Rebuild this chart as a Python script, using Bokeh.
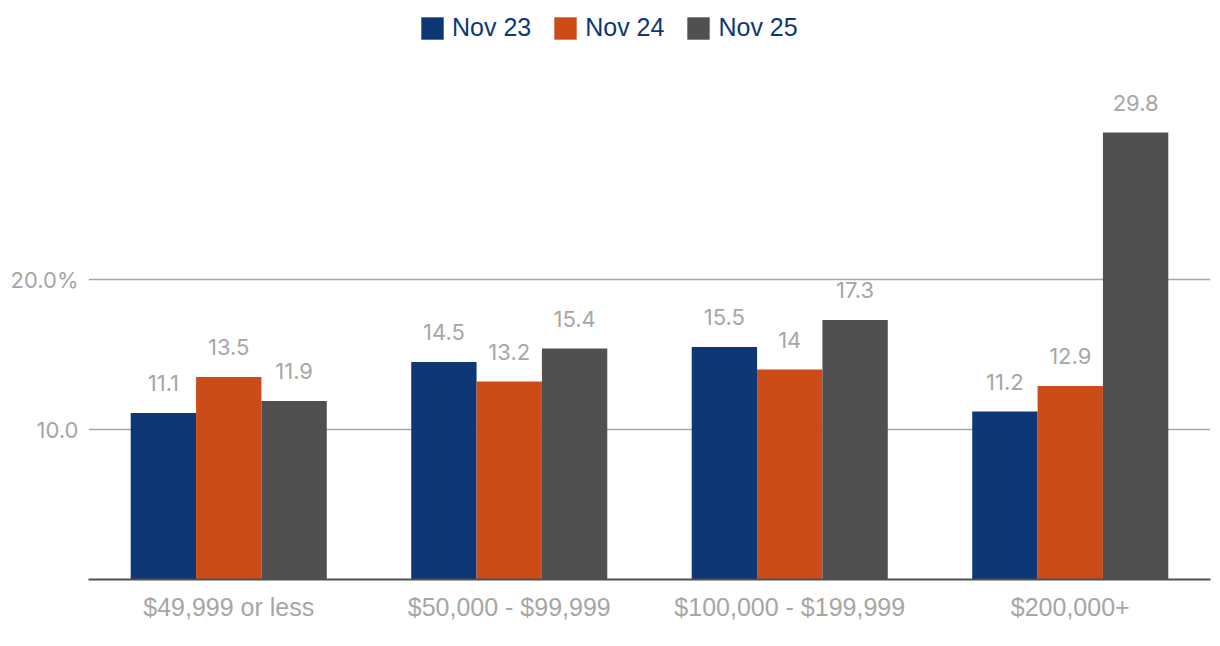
from bokeh.plotting import figure
from bokeh.models import ColumnDataSource, FixedTicker, Legend, LegendItem
from bokeh.transform import dodge
from bokeh.core.properties import value
from bokeh.embed import file_html
from bokeh.resources import INLINE

categories = ["$49,999 or less", "$50,000 - $99,999", "$100,000 - $199,999", "$200,000+"]
series_names = ["Nov 23", "Nov 24", "Nov 25"]
nov23 = [11.1, 14.5, 15.5, 11.2]
nov24 = [13.5, 13.2, 14.0, 12.9]
nov25 = [11.9, 15.4, 17.3, 29.8]
y_ticks = [10, 20]
y_tick_labels = {10: "10.0", 20: "20.0%"}

colors = ["#0D3775", "#CC4C19", "#505050"]
text_gray = "#A6A6A6"
FONT = "Inter"

p = figure(x_range=categories, y_range=(0, 38.6), width=1212, height=638,
           output_backend="svg", toolbar_location=None,
           min_border_left=88, min_border_right=2, min_border_top=0, min_border_bottom=59)
p.outline_line_color = None
p.background_fill_color = "white"

src = ColumnDataSource(dict(cat=categories, v0=nov23, v1=nov24, v2=nov25,
                            l0=[f"{v:g}" for v in nov23],
                            l1=[f"{v:g}" for v in nov24],
                            l2=[f"{v:g}" for v in nov25]))

bw = 0.233
offsets = [-bw, 0.0, bw]
renderers = []
for i, off in enumerate(offsets):
    r = p.vbar(x=dodge("cat", off, range=p.x_range), top=f"v{i}", width=bw,
               source=src, fill_color=colors[i], line_color=None)
    renderers.append(r)
    p.text(x=dodge("cat", off, range=p.x_range), y=f"v{i}", text=f"l{i}", source=src,
           text_align="center", text_baseline="middle", y_offset=-30,
           text_font=value(FONT), text_font_size="22px", text_color=text_gray)

# axes
p.yaxis.ticker = FixedTicker(ticks=y_ticks)
p.yaxis.major_label_overrides = y_tick_labels
p.yaxis.axis_line_color = None
p.yaxis.major_tick_line_color = None
p.yaxis.minor_tick_line_color = None
p.yaxis.major_label_text_font = FONT
p.yaxis.major_label_text_font_size = "22px"
p.yaxis.major_label_text_color = text_gray
p.yaxis.major_label_standoff = 4

p.xaxis.axis_line_color = "#505050"
p.xaxis.axis_line_width = 2
p.xaxis.major_tick_line_color = None
p.xaxis.minor_tick_line_color = None
p.xaxis.major_label_text_font = "Liberation Sans"
p.xaxis.major_label_text_font_size = "25px"
p.xaxis.major_label_text_color = text_gray
p.xaxis.major_label_standoff = 7

p.xgrid.grid_line_color = None
p.ygrid.ticker = FixedTicker(ticks=y_ticks)
p.ygrid.grid_line_color = "#A6A6A6"
p.ygrid.grid_line_width = 1.5

legend = Legend(items=[LegendItem(label=n, renderers=[r]) for n, r in zip(series_names, renderers)],
                orientation="horizontal", location=(330, 537),
                glyph_width=28, glyph_height=28, label_height=28,
                label_standoff=6, spacing=20, padding=0, margin=0,
                border_line_color=None, background_fill_alpha=0,
                label_text_font="Liberation Sans", label_text_font_size="25px",
                label_text_color="#0D3775")
p.add_layout(legend, "center")

open("out.html", "w").write(file_html(p, INLINE))
